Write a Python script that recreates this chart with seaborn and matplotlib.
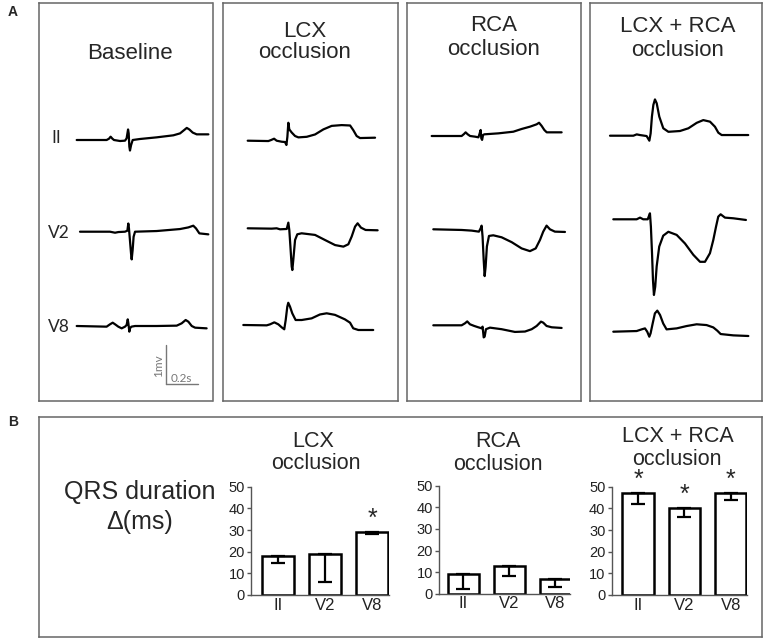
import numpy as np
import pandas as pd
import matplotlib
matplotlib.use("Agg")
import matplotlib.pyplot as plt
import seaborn as sns

# ---------------- data ----------------
conditions = ["Baseline", "LCX occlusion", "RCA occlusion", "LCX + RCA occlusion"]
leads = ["II", "V2", "V8"]

# ECG traces: time (ms from trace start) and voltage (mV relative to trace start)
base_II_t = [0, 187, 202, 212, 223, 233, 271, 302, 312, 321, 325, 329, 333, 340, 350, 396, 500, 604, 646, 667, 688, 704, 725, 750, 823]
base_II_mv = [0, 0, 0.034, 0.085, 0.034, 0, -0.026, -0.017, 0.043, 0.27, 0.17, -0.17, -0.27, -0.13, 0, 0.026, 0.068, 0.12, 0.17, 0.24, 0.31, 0.27, 0.19, 0.145, 0.145]
base_V2_t = [0, 187, 219, 240, 281, 296, 302, 306, 312, 319, 323, 329, 335, 344, 479, 625, 677, 708, 725, 746, 802]
base_V2_mv = [0, 0, -0.026, -0.009, 0, 0.026, 0.21, 0.085, -0.21, -0.56, -0.71, -0.47, -0.13, 0, 0.017, 0.068, 0.11, 0.154, 0.085, -0.043, -0.068]
base_V8_t = [0, 187, 208, 225, 240, 260, 281, 302, 312, 319, 323, 329, 333, 342, 365, 500, 625, 656, 681, 698, 719, 740, 812]
base_V8_mv = [0, -0.017, 0.043, 0.085, 0.043, -0.017, -0.06, -0.017, 0.026, 0.17, 0.068, -0.145, -0.06, -0.017, 0, 0, 0.009, 0.068, 0.154, 0.11, 0, -0.043, -0.06]

lcx_II_t = [0, 129, 146, 165, 181, 212, 233, 242, 248, 254, 260, 275, 296, 317, 369, 421, 473, 525, 587, 640, 660, 681, 702, 796]
lcx_II_mv = [0, -0.009, 0.017, 0.051, 0, -0.026, -0.034, -0.11, 0.10, 0.46, 0.29, 0.21, 0.12, 0.085, 0.10, 0.16, 0.29, 0.38, 0.40, 0.39, 0.27, 0.12, 0.068, 0.077]
lcx_V2_t = [0, 150, 181, 202, 244, 254, 260, 267, 275, 279, 285, 296, 310, 337, 421, 483, 546, 598, 629, 650, 671, 687, 708, 737, 812]
lcx_V2_mv = [0, -0.009, 0, -0.026, -0.017, 0.145, -0.043, -0.47, -0.98, -1.07, -0.81, -0.30, -0.154, -0.128, -0.17, -0.30, -0.43, -0.47, -0.41, -0.21, 0.043, 0.128, 0.017, -0.043, -0.051]
lcx_V8_t = [0, 146, 167, 194, 219, 240, 256, 265, 275, 281, 292, 306, 327, 365, 427, 479, 521, 573, 635, 667, 687, 719, 812]
lcx_V8_mv = [0, -0.009, 0.017, 0.068, 0.017, -0.06, -0.11, 0.128, 0.47, 0.57, 0.47, 0.30, 0.128, 0.128, 0.17, 0.27, 0.30, 0.26, 0.145, 0.06, -0.085, -0.128, -0.128]

rca_II_t = [0, 187, 202, 212, 225, 240, 271, 292, 300, 306, 310, 315, 321, 329, 417, 510, 562, 615, 656, 671, 687, 704, 719, 812]
rca_II_mv = [0, 0, 0.051, 0.094, 0.043, 0, -0.017, -0.034, 0.068, 0.154, -0.06, -0.10, 0.026, 0.043, 0.068, 0.11, 0.18, 0.24, 0.30, 0.34, 0.26, 0.154, 0.094, 0.094]
rca_V2_t = [0, 177, 240, 285, 296, 302, 308, 315, 321, 327, 335, 348, 375, 427, 490, 552, 604, 640, 667, 687, 708, 729, 760, 823]
rca_V2_mv = [0, -0.017, -0.034, -0.06, 0.026, 0.094, -0.19, -0.79, -1.20, -0.96, -0.44, -0.17, -0.154, -0.205, -0.33, -0.49, -0.56, -0.49, -0.27, -0.06, 0.094, 0, -0.06, -0.068]
rca_V8_t = [0, 177, 198, 212, 229, 256, 281, 302, 308, 315, 321, 329, 354, 427, 510, 573, 615, 646, 673, 687, 708, 740, 802]
rca_V8_mv = [0, 0, 0.051, 0.10, 0.026, -0.017, -0.051, -0.077, -0.034, -0.31, -0.29, -0.10, -0.06, -0.10, -0.17, -0.16, -0.10, -0.017, 0.094, 0.068, -0.017, -0.051, -0.068]

both_II_t = [0, 146, 167, 187, 229, 246, 254, 262, 271, 281, 292, 308, 333, 365, 437, 490, 542, 583, 625, 656, 677, 698, 864]
both_II_mv = [0, 0, 0.034, 0.017, -0.009, -0.128, 0.06, 0.49, 0.79, 0.93, 0.83, 0.49, 0.19, 0.10, 0.12, 0.19, 0.33, 0.40, 0.36, 0.23, 0.077, 0.017, 0.017]
both_V2_t = [0, 146, 167, 187, 215, 225, 229, 235, 242, 248, 254, 262, 271, 287, 312, 344, 396, 448, 500, 542, 573, 604, 625, 642, 656, 671, 698, 750, 829]
both_V2_mv = [0, 0, 0.043, 0, 0, 0.11, 0.154, -0.19, -0.87, -1.56, -1.94, -1.73, -1.21, -0.70, -0.42, -0.32, -0.40, -0.62, -0.91, -1.09, -1.09, -0.87, -0.53, -0.19, 0.068, 0.128, 0.043, 0.026, -0.017]
both_V8_t = [0, 146, 177, 198, 212, 225, 233, 246, 260, 275, 292, 312, 333, 396, 458, 521, 583, 625, 650, 671, 750, 844]
both_V8_mv = [0, 0.017, 0.06, 0.085, 0, -0.128, -0.043, 0.21, 0.47, 0.54, 0.43, 0.21, 0.06, 0.085, 0.145, 0.19, 0.17, 0.11, 0.026, -0.06, -0.094, -0.11]

# QRS duration change (ms), mean and lower error
bar_leads = ["II", "V2", "V8"]
lcx_qrs = [18, 19, 29]
lcx_err = [3, 13, 1]
lcx_sig = [False, False, True]
rca_qrs = [9, 13, 7]
rca_err = [7, 5, 4]
rca_sig = [False, False, False]
both_qrs = [47, 40, 47]
both_err = [5, 4, 3]
both_sig = [True, True, True]
y_ticks = [0, 10, 20, 30, 40, 50]

# ---------------- layout ----------------
sns.set_theme(style="white")
plt.rcParams['font.family'] = ['Liberation Sans', 'DejaVu Sans']

W, H = 767, 640
fig = plt.figure(figsize=(W / 100, H / 100), dpi=100)
fig.patch.set_facecolor("white")

def rect(x0, y0, x1, y1):
    return [x0 / W, 1 - y1 / H, (x1 - x0) / W, (y1 - y0) / H]

def ftext(px, py, s, **kw):
    return fig.text(px / W, 1 - py / H, s, **kw)

MS_PER_PX = 6.25
PX_PER_MV = 39.0
BOX_TOP, BOX_BOT = 2.7, 400.5
box_x = [(39.3, 212.5), (222.7, 398.0), (407.3, 581.0), (590.0, 762.0)]
trace_start = [
    [(76.7, 140.0), (80.0, 231.7), (76.7, 326.0)],
    [(247.7, 140.7), (247.7, 228.3), (243.3, 325.0)],
    [(431.7, 136.0), (433.3, 229.3), (433.3, 325.3)],
    [(610.0, 135.7), (613.3, 219.3), (613.3, 331.7)],
]
traces = [
    [(base_II_t, base_II_mv), (base_V2_t, base_V2_mv), (base_V8_t, base_V8_mv)],
    [(lcx_II_t, lcx_II_mv), (lcx_V2_t, lcx_V2_mv), (lcx_V8_t, lcx_V8_mv)],
    [(rca_II_t, rca_II_mv), (rca_V2_t, rca_V2_mv), (rca_V8_t, rca_V8_mv)],
    [(both_II_t, both_II_mv), (both_V2_t, both_V2_mv), (both_V8_t, both_V8_mv)],
]
BOX_COLOR = "#666666"

ecg_axes = []
for i, (x0, x1) in enumerate(box_x):
    ax = fig.add_axes(rect(x0, BOX_TOP, x1, BOX_BOT))
    ax.set_xlim(0, (x1 - x0) * MS_PER_PX)
    ax.set_ylim(-(BOX_BOT - BOX_TOP) / PX_PER_MV, 0)
    ax.set_xticks([]); ax.set_yticks([])
    for s in ax.spines.values():
        s.set_visible(True); s.set_color(BOX_COLOR); s.set_linewidth(1.1)
    for j, (t, mv) in enumerate(traces[i]):
        sx, sy = trace_start[i][j]
        xs = np.asarray(t, float) + (sx - x0) * MS_PER_PX
        ys = np.asarray(mv, float) - (sy - BOX_TOP) / PX_PER_MV
        sns.lineplot(x=xs, y=ys, sort=False, estimator=None, color="black",
                     linewidth=1.6, ax=ax, legend=False)
        ax.lines[-1].set_solid_joinstyle("round")
    ax.set_xlabel(""); ax.set_ylabel("")
    ecg_axes.append(ax)

# scale bar in baseline panel
ax0 = ecg_axes[0]
sbx = (166 - box_x[0][0]) * MS_PER_PX
sby = -(384.5 - BOX_TOP) / PX_PER_MV
ax0.plot([sbx, sbx], [sby, sby + 1.0], color="#777777", lw=1.0)
ax0.plot([sbx, sbx + 200], [sby, sby], color="#777777", lw=1.0)
ftext(158.5, 366, "1mv", rotation=90, ha="center", va="center", fontsize=8.5,
      color="#777777", family=["Lato", "DejaVu Sans"])
ftext(181, 381.5, "0.2s", ha="center", va="baseline", fontsize=8.5,
      color="#777777", family=["Lato", "DejaVu Sans"])

# lead labels
lead_lab_pos = [(56, 142.7), (59, 238.3), (59, 331.7)]
for lab, (px, py) in zip(leads, lead_lab_pos):
    ftext(px, py, lab, ha="center", va="baseline", fontsize=12.5,
          family=["Lato", "DejaVu Sans"])

# panel A titles
title_fs = 16
ftext(129.5, 59.3, "Baseline", ha="center", va="baseline", fontsize=title_fs)
ftext(305, 37, "LCX", ha="center", va="baseline", fontsize=title_fs)
ftext(305, 58.5, "occlusion", ha="center", va="baseline", fontsize=title_fs)
ftext(494, 30.7, "RCA", ha="center", va="baseline", fontsize=title_fs)
ftext(494, 55, "occlusion", ha="center", va="baseline", fontsize=title_fs)
ftext(677.5, 31.7, "LCX + RCA", ha="center", va="baseline", fontsize=title_fs)
ftext(677.5, 56.5, "occlusion", ha="center", va="baseline", fontsize=title_fs)

ftext(13, 16.5, "A", ha="center", va="baseline", fontsize=10, fontweight="bold")
ftext(13, 426.5, "B", ha="center", va="baseline", fontsize=10, fontweight="bold")

# ---------------- panel B ----------------
axB = fig.add_axes(rect(39.3, 416.7, 762.0, 637.0))
axB.set_xticks([]); axB.set_yticks([])
axB.patch.set_alpha(0)
for s in axB.spines.values():
    s.set_visible(True); s.set_color(BOX_COLOR); s.set_linewidth(1.1)
axB.set_zorder(-1)

ftext(140, 499.3, "QRS duration", ha="center", va="baseline", fontsize=18)
ftext(140, 529.5, "\u0394(ms)", ha="center", va="baseline", fontsize=18)

bar_sets = [
    (lcx_qrs, lcx_err, lcx_sig, (251.0, 486.7, 389.0, 595.0), (-0.574, 2.36),
     [("LCX", 313.5, 446.7), ("occlusion", 316, 469.3)]),
    (rca_qrs, rca_err, rca_sig, (439.3, 485.7, 570.0, 593.7), (-0.52, 2.32),
     [("RCA", 497.5, 446.7), ("occlusion", 497.5, 469.5)]),
    (both_qrs, both_err, both_sig, (611.7, 486.7, 747.0, 595.0), (-0.567, 2.35),
     [("LCX + RCA", 677.5, 441.7), ("occlusion", 677, 465)]),
]
AX_COLOR = "#555555"
for vals, errs, sig, (x0, y0, x1, y1), xl, titles in bar_sets:
    ax = fig.add_axes(rect(x0, y0, x1, y1))
    ax.patch.set_alpha(0)
    df = pd.DataFrame({"lead": bar_leads, "qrs": vals})
    sns.barplot(data=df, x="lead", y="qrs", color="white", edgecolor="black",
                linewidth=1.8, width=0.67, errorbar=None, saturation=1, ax=ax)
    for p in ax.patches:
        p.set_facecolor("white")
    ax.errorbar(range(len(vals)), vals, yerr=[errs, [0] * len(errs)], fmt="none",
                ecolor="black", elinewidth=1.6, capsize=5, capthick=1.6)
    for k, (v, s) in enumerate(zip(vals, sig)):
        if s:
            ax.text(k, v + 0.5, "*", ha="center", va="bottom", fontsize=18,
                    clip_on=False)
    ax.set_xlim(*xl)
    ax.set_ylim(0, 50)
    ax.set_yticks(y_ticks)
    ax.set_xlabel(""); ax.set_ylabel("")
    sns.despine(ax=ax)
    for sp in ("left", "bottom"):
        ax.spines[sp].set_color(AX_COLOR); ax.spines[sp].set_linewidth(1.0)
    ax.tick_params(axis="y", left=True, length=3, width=1, color=AX_COLOR,
                   direction="out", pad=1.5, labelsize=10.5, labelcolor="#222222")
    ax.tick_params(axis="x", bottom=False, length=0, pad=2, labelsize=12,
                   labelcolor="#222222")
    for txt, px, py in titles:
        ftext(px, py, txt, ha="center", va="baseline", fontsize=15.5)

fig.savefig("out.png", dpi=100, facecolor="white")
